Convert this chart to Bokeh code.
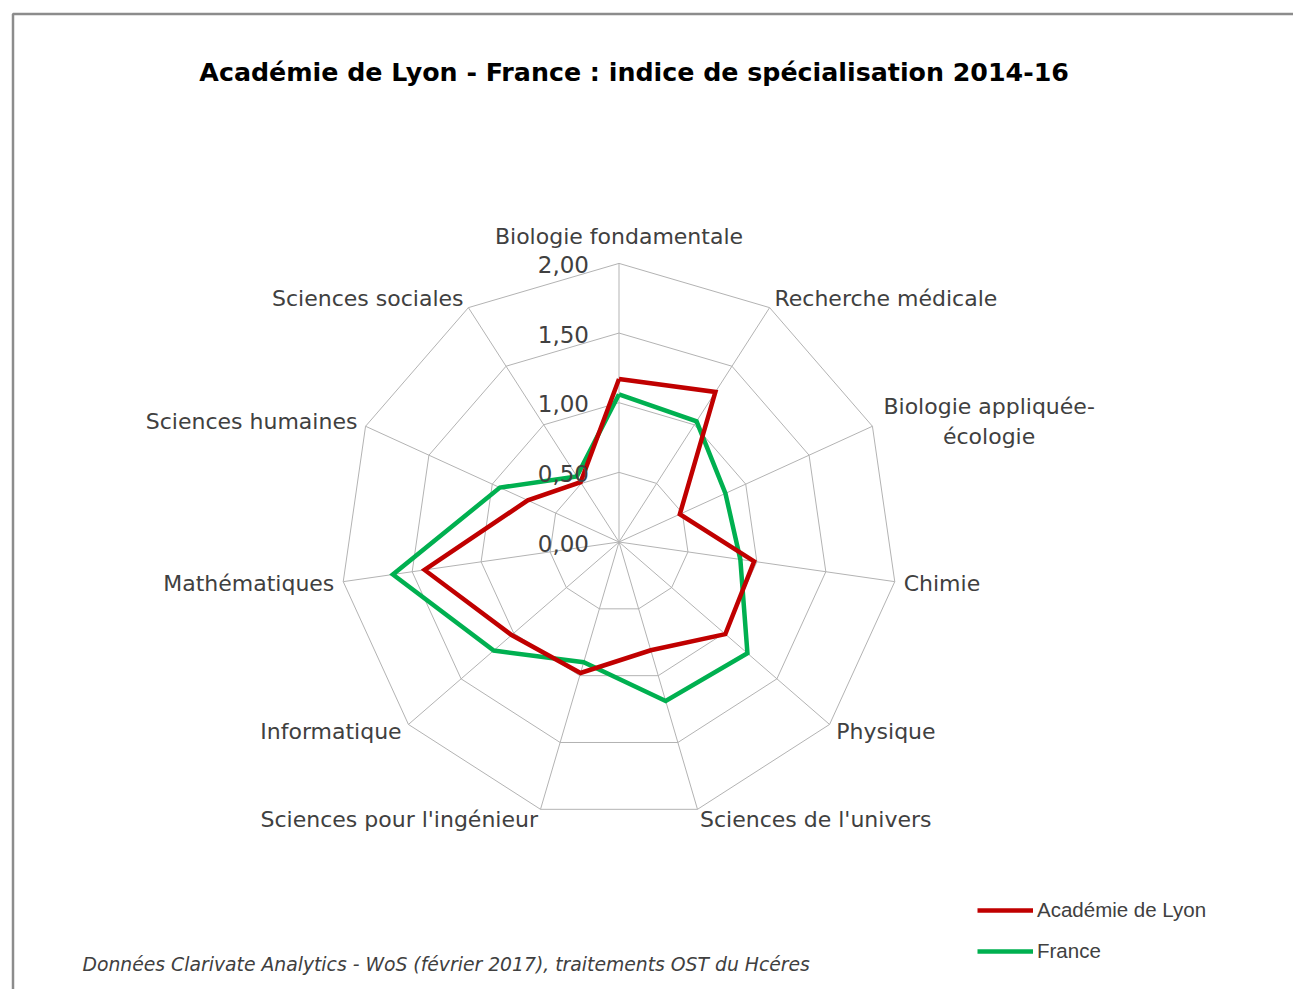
import math
from bokeh.plotting import figure
from bokeh.models import Range1d, Legend, LegendItem
from bokeh.core.properties import value
from bokeh.embed import file_html
from bokeh.resources import INLINE

# ---------------- data ----------------
categories = ["Biologie fondamentale", "Recherche médicale", "Biologie appliquée-\nécologie",
              "Chimie", "Physique", "Sciences de l'univers", "Sciences pour l'ingénieur",
              "Informatique", "Mathématiques", "Sciences humaines", "Sciences sociales"]
lyon = [1.17, 1.28, 0.48, 0.98, 1.01, 0.81, 0.98, 1.02, 1.41, 0.72, 0.51]
france = [1.06, 1.03, 0.84, 0.88, 1.22, 1.19, 0.90, 1.19, 1.64, 0.94, 0.56]
ticks = [0.0, 0.5, 1.0, 1.5, 2.0]
tick_labels = ["0,00", "0,50", "1,00", "1,50", "2,00"]
series_names = ["Académie de Lyon", "France"]
title_text = "Académie de Lyon  - France : indice de spécialisation 2014-16"
source_text = "Données Clarivate Analytics - WoS (février 2017), traitements OST du Hcéres"

# ---------------- layout ----------------
W, H = 1293, 989
S = 139.3                    # pixels per unit
cxf, cyf = 618.5, 541.5      # centre of the radar, in pixels

def X(img_x):
    return (img_x - cxf) / S

def Y(img_y):
    return (cyf - img_y) / S

p = figure(width=W, height=H, x_range=Range1d(-cxf / S, (W - cxf) / S),
           y_range=Range1d(-(H - cyf) / S, cyf / S),
           output_backend="svg", toolbar_location=None, min_border=0)
p.axis.visible = False
p.grid.visible = False
p.outline_line_color = None
p.background_fill_color = "white"
p.border_fill_color = "white"

# outer chart border
p.quad(left=X(12.5), right=X(1330), top=Y(13.5), bottom=Y(1030),
       fill_color=None, line_color="#8c8c8c", line_width=2.5)

n = len(categories)
angles = [2 * math.pi * i / n for i in range(n)]
GRID = "#b3b3b3"
rmax = ticks[-1]

# rings
for t in ticks[1:]:
    xs = [t * math.sin(a) for a in angles] + [0]
    ys = [t * math.cos(a) for a in angles] + [t]
    p.line(xs, ys, line_color=GRID, line_width=1)
# spokes
for a in angles:
    p.line([0, rmax * math.sin(a)], [0, rmax * math.cos(a)], line_color=GRID, line_width=1)

# series
def poly(vals):
    xs = [v * math.sin(a) for v, a in zip(vals, angles)]
    ys = [v * math.cos(a) for v, a in zip(vals, angles)]
    return xs + xs[:1], ys + ys[:1]

lx, ly = poly(lyon)
fx, fy = poly(france)
r_fr = p.line(fx, fy, line_color="#00B050", line_width=4.5, line_join="miter")
r_ly = p.line(lx, ly, line_color="#C00000", line_width=4.5, line_join="miter")

# tick labels
p.text(x=[0] * len(ticks), y=ticks, text=tick_labels, x_offset=-30, y_offset=1,
       text_align="right", text_baseline="middle", text_font=value("DejaVu Sans"),
       text_font_size="23px", text_color="#404040")

# category labels
LABEL_FONT = "DejaVu Sans"
for cat, a in zip(categories, angles):
    vx = rmax * math.sin(a)
    vy = rmax * math.cos(a)
    s, c = math.sin(a), math.cos(a)
    if "\n" in cat:
        align = "center"
        xo = 116.7
    elif abs(s) < 0.1:
        align = "center"
        xo = 0
    else:
        align = "left" if s > 0 else "right"
        xo = 9 * s
    yo = -27 if abs(s) < 0.1 and c > 0 else -11 * c
    p.text(x=[vx], y=[vy], text=[cat], x_offset=xo, y_offset=yo,
           text_align=align, text_baseline="middle", text_font=value(LABEL_FONT),
           text_font_size="22px", text_color="#404040", text_line_height=1.2)

# title
p.text(x=[X(638)], y=[Y(72)], text=[title_text], text_align="center", text_baseline="middle",
       text_font=value("DejaVu Sans"), text_font_style="bold", text_font_size="25.3px",
       text_color="#000000")

# source note
p.text(x=[X(82)], y=[Y(964)], text=[source_text], text_align="left", text_baseline="middle",
       text_font=value("DejaVu Sans"), text_font_style="italic", text_font_size="18.8px",
       text_color="#404040")

# legend
legend = Legend(items=[LegendItem(label=series_names[0], renderers=[r_ly]),
                       LegendItem(label=series_names[1], renderers=[r_fr])],
                location=(977, 26), padding=0, margin=0, spacing=17,
                glyph_width=56, glyph_height=20, label_standoff=4,
                label_text_font="Liberation Sans", label_text_font_size="20.5px",
                label_text_color="#404040", border_line_color=None,
                background_fill_alpha=0)
p.add_layout(legend)

open("out.html", "w").write(file_html(p, INLINE))
